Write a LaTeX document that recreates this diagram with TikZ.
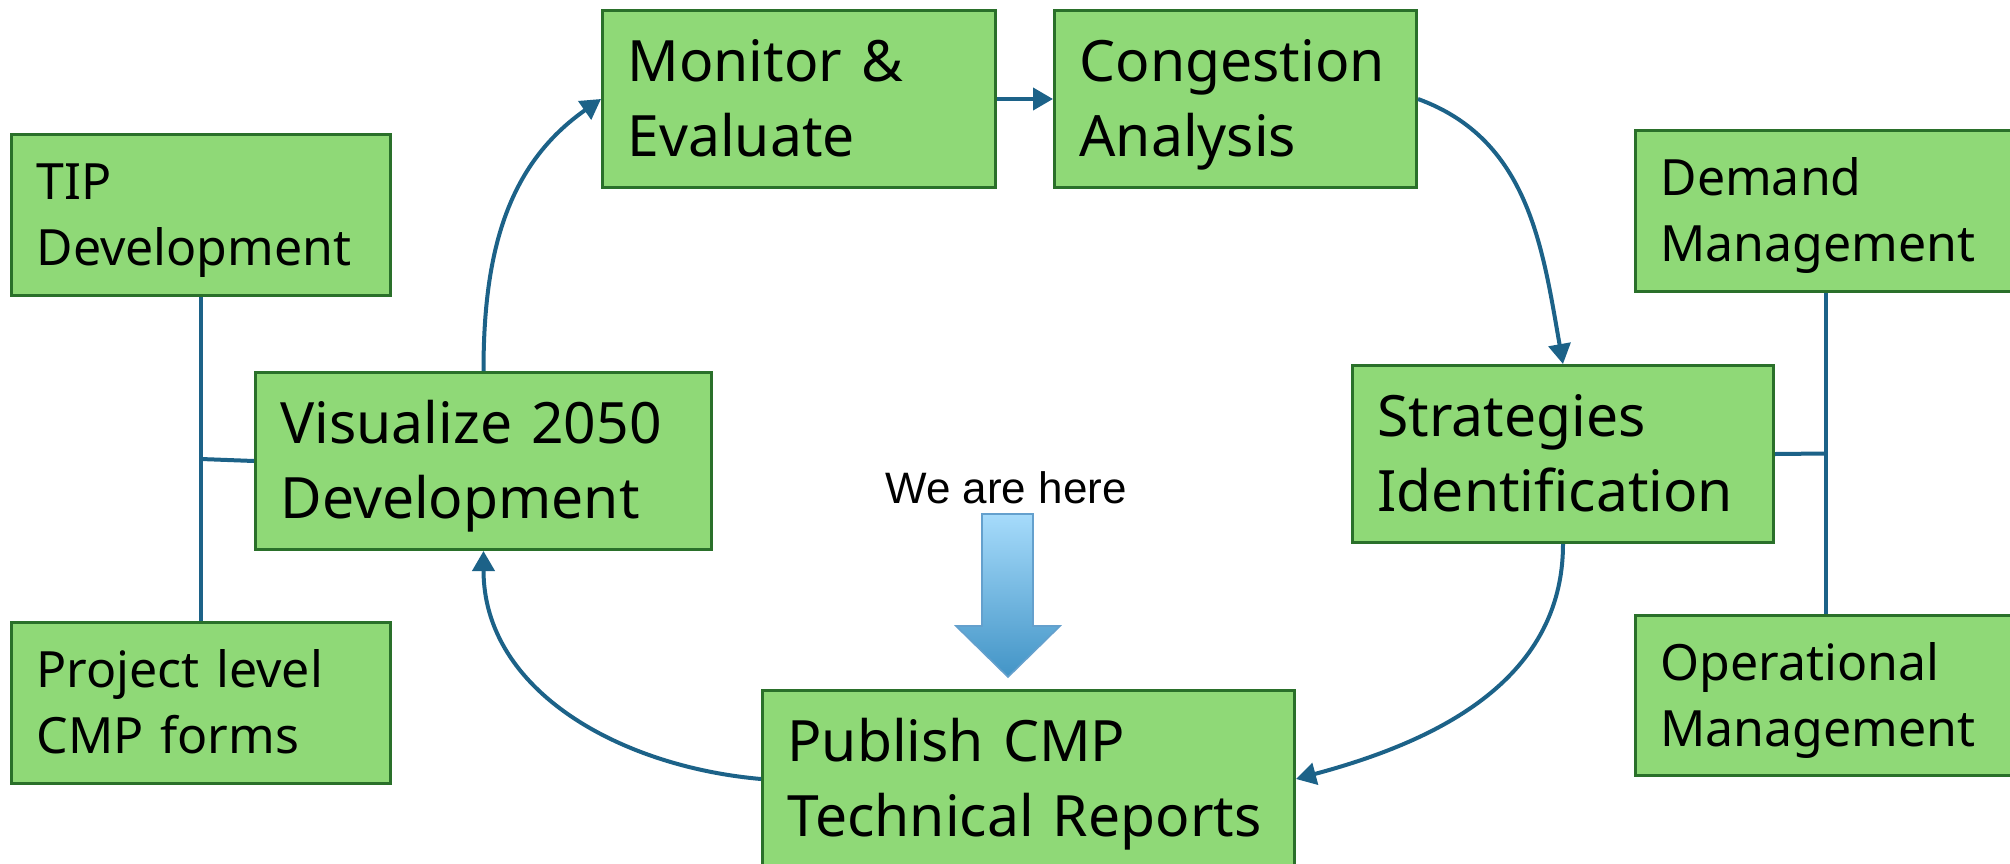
\documentclass[tikz,border=0pt]{standalone}
\usepackage{fontspec}
\setmainfont{Noto Sans}
\newfontfamily\herefont{Liberation Sans}
\usetikzlibrary{arrows.meta,calc}
\definecolor{boxfill}{RGB}{143,217,119}
\definecolor{boxborder}{RGB}{42,112,42}
\definecolor{conn}{RGB}{28,98,136}
\definecolor{arrowtop}{RGB}{166,219,251}
\definecolor{arrowbot}{RGB}{66,148,198}
\definecolor{arrowedge}{RGB}{100,160,205}
\newcommand\mstrut{\rule[-8pt]{0pt}{36.3pt}}
\newcommand\sstrut{\rule[-7pt]{0pt}{31.85pt}}
\tikzset{
  box/.style={draw=boxborder, fill=boxfill, line width=1.5pt, rectangle,
    align=left, anchor=north west, inner xsep=12.5pt, inner ysep=0pt},
  mainbox/.style={box, font=\fontsize{28.5pt}{37.5pt}\selectfont, minimum height=88.5pt},
  sidebox/.style={box, font=\fontsize{25pt}{33pt}\selectfont},
  flow/.style={draw=conn, line width=2pt, -{Triangle[length=10pt,width=11pt]}},
  link/.style={draw=conn, line width=2pt},
}
\begin{document}
\begin{tikzpicture}[x=0.5pt,y=-0.5pt]
\useasboundingbox (0,0) rectangle (2010,863);
\clip (0,0) rectangle (2010,863);
\fill[white] (0,0) rectangle (2010,863);
% main cycle boxes
\node[mainbox, text width=171.5pt] (mon) at (601,9) {\mstrut Monitor~\&\\\mstrut Evaluate};
\node[mainbox, text width=156pt] (con) at (1053,9) {\mstrut Congestion\\\mstrut Analysis};
\node[mainbox, text width=185.5pt] (str) at (1351,364) {\mstrut Strategies\\\mstrut Identification};
\node[mainbox, text width=241pt] (pub) at (761,689) {\mstrut Publish~CMP\\\mstrut Technical~Reports};
\node[mainbox, text width=203pt] (vis) at (254,371) {\mstrut Visualize~2050\\\mstrut Development};
% side boxes
\node[sidebox, text width=164.5pt, minimum height=80.5pt] (tip) at (10,133) {\sstrut TIP\\\sstrut Development};
\node[sidebox, text width=164.5pt, minimum height=80.5pt] (proj) at (10,621) {\sstrut Project~level\\\sstrut CMP~forms};
\node[sidebox, text width=165pt, minimum height=80.5pt] (dem) at (1634,129) {\sstrut Demand\\\sstrut Management};
\node[sidebox, text width=165pt, minimum height=80pt] (oper) at (1634,614) {\sstrut Operational\\\sstrut Management};
% cycle connectors
\draw[flow] (mon.east) -- (con.west);
\draw[flow] (con.east) to[out=-20,in=100] (str.north);
\draw[flow] (str.south) to[out=-90,in=15] (pub.east);
\draw[flow] (pub.west) to[out=175,in=-90] (vis.south);
\draw[flow] (vis.north) to[out=90,in=215] (mon.west);
% side links
\draw[link] (tip.south) -- (proj.north);
\coordinate (lj) at ($(tip.south)!0.5!(proj.north)$);
\draw[link] (lj) -- (vis.west);
\draw[link] (dem.south) -- (oper.north);
\coordinate (rj) at ($(dem.south)!0.5!(oper.north)$);
\draw[link] (str.east) -- (rj);
% we are here
\node[font=\herefont\fontsize{22pt}{26pt}\selectfont, anchor=base, inner sep=0pt] (here) at (1006,503) {We are here};
\shadedraw[top color=arrowtop, bottom color=arrowbot, draw=arrowedge, line width=0.8pt]
  (982,514) -- (1033,514) -- (1033,626) -- (1060,626) -- (1008,677) -- (956,626) -- (982,626) -- cycle;
\end{tikzpicture}
\end{document}
